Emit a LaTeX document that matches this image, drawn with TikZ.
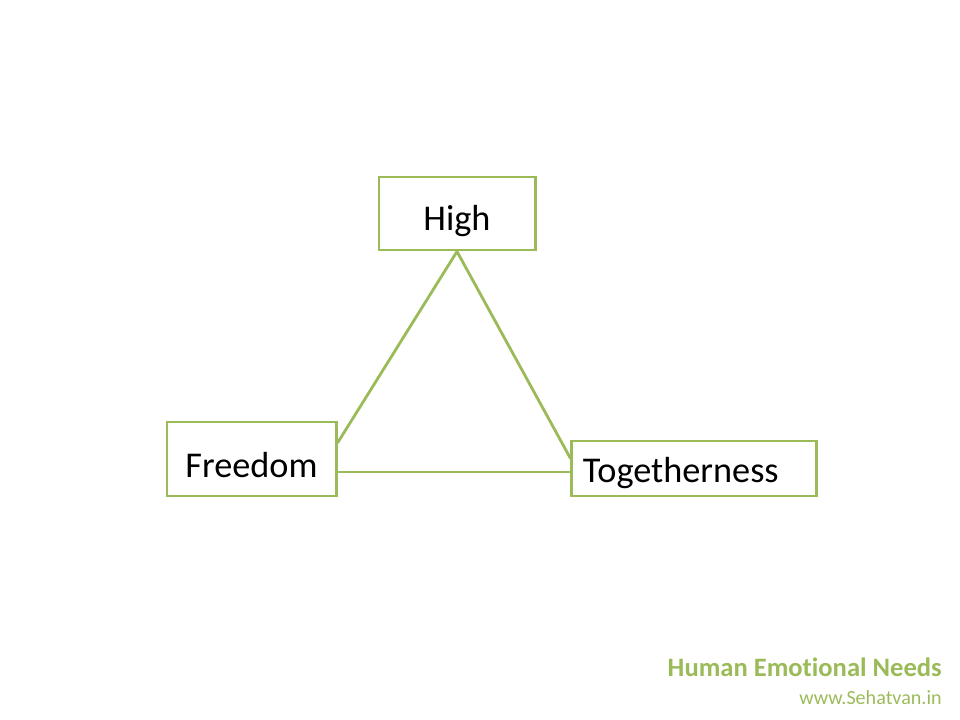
\documentclass[tikz,border=0pt]{standalone}
\usepackage{fontspec}
\setmainfont{Carlito}[Ligatures=NoCommon]
\usepackage{tikz}
\definecolor{leafgreen}{HTML}{9BBB59}

\begin{document}
\begin{tikzpicture}[x=0.025cm, y=-0.025cm,
  needbox/.style={draw=leafgreen, line width=2.1pt, inner sep=0pt, text depth=0pt, text height=24pt, font=\fontsize{25.8}{31}\selectfont},
  link/.style={draw=leafgreen, line width=2pt}]
\useasboundingbox (0,0) rectangle (960,720);
\node[needbox, minimum width=3.9cm, minimum height=1.825cm] (high) at (457,213.5) {High};
\node[needbox, text height=26pt, minimum width=4.225cm, minimum height=1.85cm] (free) at (251.5,459) {Freedom};
\node[needbox, text height=20pt, inner xsep=0.275cm, text width=5.55cm, align=left, minimum height=1.375cm] (tog) at (694,468.5) {Togetherness};
\coordinate (base) at ([yshift=-0.325cm]free.east);
\draw[link] (high.south) -- ([yshift=0.4cm]free.east);
\draw[link] (high.south) -- ([yshift=0.25cm]tog.west);
\draw[link] (base) -- (base -| tog.west);
\node[anchor=base east, inner sep=0pt, text=leafgreen, font=\bfseries\fontsize{18.9}{22}\selectfont] (title) at (942,676) {Human Emotional Needs};
\node[anchor=base east, inner sep=0pt, text=leafgreen, font=\fontsize{14.3}{17}\selectfont] (site) at (942,704) {www.Sehatvan.in};
\end{tikzpicture}
\end{document}
